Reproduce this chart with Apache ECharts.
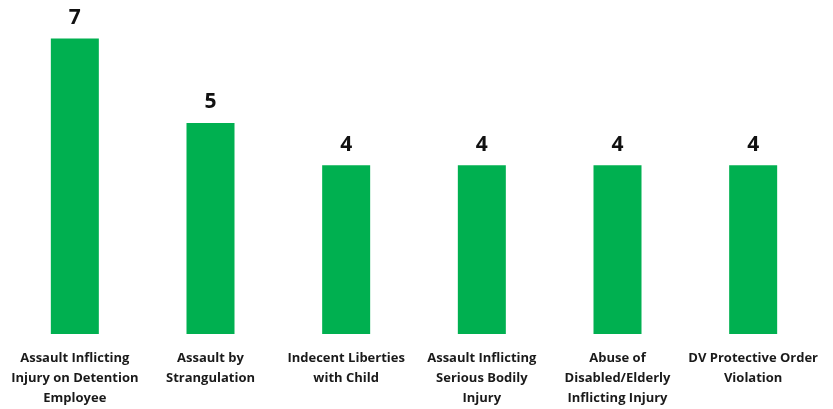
<!DOCTYPE html>
<html><head><meta charset="utf-8">
<script src="https://cdn.jsdelivr.net/npm/echarts@6/dist/echarts.min.js"></script>
<style>html,body{margin:0;padding:0;background:#fff}#c{width:833px;height:409px}</style>
</head><body><div id="c"></div>
<script>
const categories = [
  'Assault Inflicting\nInjury on Detention\nEmployee',
  'Assault by\nStrangulation',
  'Indecent Liberties\nwith Child',
  'Assault Inflicting\nSerious Bodily\nInjury',
  'Abuse of\nDisabled/Elderly\nInflicting Injury',
  'DV Protective Order\nViolation'
];
const values = [7, 5, 4, 4, 4, 4];

const chart = echarts.init(document.getElementById('c'));
chart.setOption({
  animation: false,
  grid: {left: 7, right: 12, top: 38.5, bottom: 75, containLabel: false},
  xAxis: {
    type: 'category', data: categories,
    axisLine: {show: false}, axisTick: {show: false},
    axisLabel: {interval: 0, color: '#1a1a1a', fontFamily: 'Open Sans', fontWeight: 'bold', fontSize: 13, lineHeight: 20, margin: 14}
  },
  yAxis: {type: 'value', min: 0, max: 7, show: false, splitLine: {show: false}},
  series: [{
    type: 'bar', data: values, barWidth: 48,
    itemStyle: {color: '#00B050'},
    label: {show: true, position: 'top', distance: 10, color: '#111', fontFamily: 'Open Sans', fontWeight: 'bold', fontSize: 21}
  }]
});
</script></body></html>
